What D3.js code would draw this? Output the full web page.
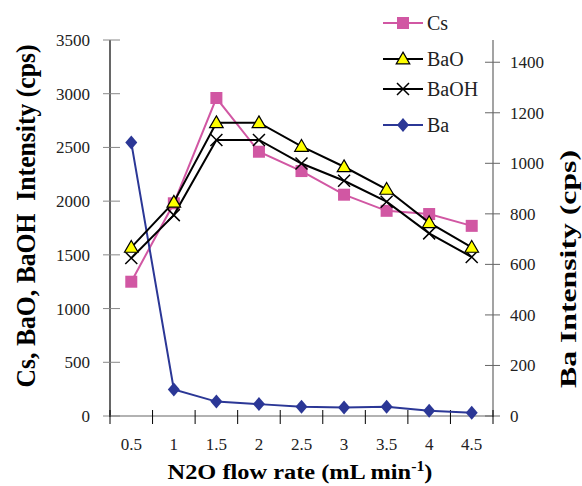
<!DOCTYPE html>
<html><head><meta charset="utf-8">
<script src="https://cdn.jsdelivr.net/npm/d3@7"></script>
<style>body{margin:0;background:#fff}svg{display:block}</style>
</head><body>
<svg id="c" width="582" height="486"></svg>
<script>
const categories = ["0.5","1","1.5","2","2.5","3","3.5","4","4.5"];
const cs   = [1250,1980,2960,2460,2280,2060,1910,1880,1770];
const bao  = [1570,1990,2730,2730,2510,2320,2110,1800,1570];
const baoh = [1470,1870,2570,2570,2350,2190,1995,1700,1480];
const ba   = [1082,105,57,47,37,34,37,21,13];
const leftTicks = [0,500,1000,1500,2000,2500,3000,3500];
const rightTicks = [0,200,400,600,800,1000,1200,1400];

const FONT = "'Liberation Serif', 'Times New Roman', Times, 'DejaVu Serif', serif";
const svg = d3.select("#c").attr("font-family", FONT);
const L = 110, R = 493, T = 40, B = 416;
const x = d3.scaleBand().domain(categories).range([L, R]);
const yL = d3.scaleLinear().domain([0,3500]).range([B, T]);
const yR = d3.scaleLinear().domain([0,1488]).range([B, T]);
const cx = d => x(d) + x.bandwidth()/2;

svg.append("line").attr("x1",L).attr("x2",L).attr("y1",T).attr("y2",B+1).attr("stroke","#000").attr("stroke-width",1.2);
svg.append("line").attr("x1",R).attr("x2",R).attr("y1",T).attr("y2",B+1).attr("stroke","#666").attr("stroke-width",1.2);
svg.append("line").attr("x1",L).attr("x2",R).attr("y1",B).attr("y2",B).attr("stroke","#666").attr("stroke-width",1.2);

const gl = svg.append("g");
leftTicks.forEach(t=>{
  gl.append("line").attr("x1",L-7).attr("x2",L+10).attr("y1",yL(t)).attr("y2",yL(t)).attr("stroke","#888").attr("stroke-width",1);
  gl.append("text").attr("x",90).attr("y",yL(t)).attr("dy","0.35em").attr("text-anchor","end").attr("font-size",17).attr("fill","#222").text(t);
});
rightTicks.forEach(t=>{
  gl.append("line").attr("x1",R-8).attr("x2",R+7).attr("y1",yR(t)).attr("y2",yR(t)).attr("stroke","#666").attr("stroke-width",1);
  gl.append("text").attr("x",510).attr("y",yR(t)).attr("dy","0.35em").attr("text-anchor","start").attr("font-size",17).attr("fill","#222").text(t);
});
const bounds = categories.map(c=>x(c)).concat([R]);
bounds.forEach(b=>{
  gl.append("line").attr("x1",b).attr("x2",b).attr("y1",B-6).attr("y2",B+8).attr("stroke","#000").attr("stroke-width",1);
});
categories.forEach(c=>{
  gl.append("text").attr("x",cx(c)).attr("y",444).attr("dy","0.35em").attr("text-anchor","middle").attr("font-size",17).attr("fill","#222").text(c);
});

function fit(t, px, py, rot, len){
  const w = t.node().getBBox().width;
  t.attr("transform", `translate(${px},${py}) rotate(${rot}) scale(${len/w},1)`);
}
const lt = svg.append("text").attr("text-anchor","middle").attr("font-size",27.5).attr("font-weight","bold").style("white-space","pre").text("Cs, BaO, BaOH  Intensity (cps)");
fit(lt, 35, 216, -90, 343);
const rt = svg.append("text").attr("text-anchor","middle").attr("font-size",22.5).attr("font-weight","bold").text("Ba Intensity (cps)");
fit(rt, 576, 269, -90, 238);
const xt = svg.append("text").attr("text-anchor","middle").attr("font-size",21.6).attr("font-weight","bold");
xt.append("tspan").text("N2O flow rate (mL min");
xt.append("tspan").attr("dy",-8).attr("font-size",14).text("-1");
xt.append("tspan").attr("dy",8).text(")");
fit(xt, 300, 479, 0, 265);

const pink = "#D157A3", blue = "#2B3796";
const line = (ys, sc) => d3.line().x((d,i)=>cx(categories[i])).y(d=>sc(d))(ys);

function square(g, px, py){ g.append("rect").attr("x",px-6).attr("y",py-6).attr("width",12).attr("height",12).attr("fill",pink); }
function tri(g, px, py){ g.append("path").attr("d",d3.symbol(d3.symbolTriangle, 80)()).attr("transform",`translate(${px},${py+1})`).attr("fill","#FFFF00").attr("stroke","#000").attr("stroke-width",1.2); }
function cross(g, px, py){ const s=6; g.append("path").attr("d",`M${px-s},${py-s}L${px+s},${py+s}M${px-s},${py+s}L${px+s},${py-s}`).attr("stroke","#000").attr("stroke-width",1.5); }
function diamond(g, px, py){ g.append("path").attr("d",`M${px},${py-7}L${px+6},${py}L${px},${py+7}L${px-6},${py}Z`).attr("fill",blue); }

const g = svg.append("g");
g.append("path").attr("d",line(cs,yL)).attr("fill","none").attr("stroke",pink).attr("stroke-width",2);
cs.forEach((v,i)=>square(g,cx(categories[i]),yL(v)));
g.append("path").attr("d",line(ba,yR)).attr("fill","none").attr("stroke",blue).attr("stroke-width",2);
ba.forEach((v,i)=>diamond(g,cx(categories[i]),yR(v)));
g.append("path").attr("d",line(baoh,yL)).attr("fill","none").attr("stroke","#000").attr("stroke-width",2);
baoh.forEach((v,i)=>cross(g,cx(categories[i]),yL(v)));
g.append("path").attr("d",line(bao,yL)).attr("fill","none").attr("stroke","#000").attr("stroke-width",2);
bao.forEach((v,i)=>tri(g,cx(categories[i]),yL(v)));

const leg = [
  {name:"Cs", color:pink, m:square, y:23},
  {name:"BaO", color:"#000", m:tri, y:59},
  {name:"BaOH", color:"#000", m:cross, y:89},
  {name:"Ba", color:blue, m:diamond, y:125}
];
const lg = svg.append("g");
leg.forEach(d=>{
  lg.append("line").attr("x1",383).attr("x2",423).attr("y1",d.y).attr("y2",d.y).attr("stroke",d.color).attr("stroke-width",2);
  d.m(lg,403,d.y);
  lg.append("text").attr("x",427).attr("y",d.y).attr("dy","0.35em").attr("font-size",20).attr("fill","#222").text(d.name);
});
</script>
</body></html>
